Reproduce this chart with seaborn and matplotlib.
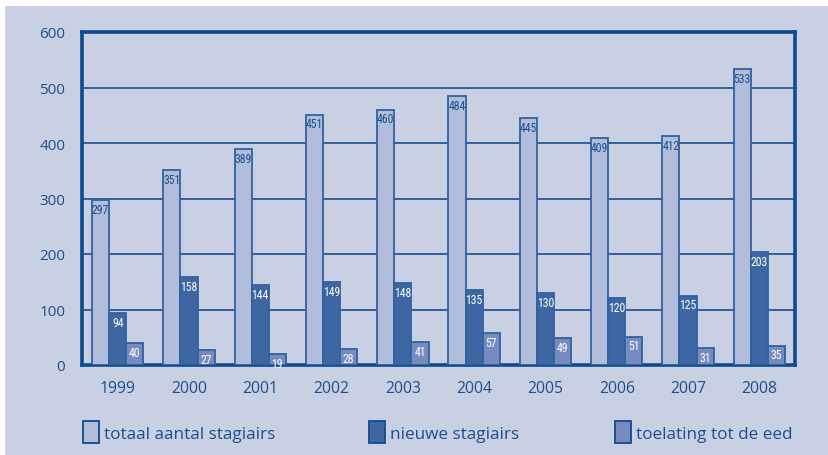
import matplotlib
matplotlib.use("Agg")
import matplotlib.pyplot as plt
from matplotlib.patches import Patch, Rectangle
from matplotlib.ticker import FixedLocator
from matplotlib import font_manager
import seaborn as sns
import pandas as pd

years = ["1999", "2000", "2001", "2002", "2003", "2004", "2005", "2006", "2007", "2008"]
series_names = ["totaal aantal stagiairs", "nieuwe stagiairs", "toelating tot de eed"]
totaal = [297, 351, 389, 451, 460, 484, 445, 409, 412, 533]
nieuwe = [94, 158, 144, 149, 148, 135, 130, 120, 125, 203]
toelating = [40, 27, 19, 28, 41, 57, 49, 51, 31, 35]
y_ticks = [0, 100, 200, 300, 400, 500, 600]

BG = "#c9d0e3"
FRAME = "#0d4a8f"
GRID = "#2f62a0"
TEXT = "#1c4f8e"
bar_colors = ["#b1bdda", "#3e66a3", "#778bc0"]
label_colors = [TEXT, "white", "white"]

df = pd.DataFrame({
    "jaar": years * 3,
    "reeks": [series_names[0]] * 10 + [series_names[1]] * 10 + [series_names[2]] * 10,
    "aantal": totaal + nieuwe + toelating,
})

sns.set_theme(style="white")
plt.rcParams["font.family"] = ["Open Sans", "DejaVu Sans"]

# narrow face for the small in-bar numbers, if one is installed
installed = {f.name for f in font_manager.fontManager.ttflist}
narrow = [n for n in ["Liberation Sans Narrow", "DejaVu Sans Condensed", "Roboto Condensed"]
          if n in installed]
value_family = narrow + ["Roboto", "DejaVu Sans"]

fig = plt.figure(figsize=(8.29, 4.56), dpi=100, facecolor="white")
fig.patches.append(Rectangle((5 / 829, -0.01), 1.02, 449 / 456 + 0.01, transform=fig.transFigure,
                             facecolor=BG, edgecolor="none", zorder=-10))

ax = fig.add_axes([82 / 829, 90 / 456, 713 / 829, 333 / 456])
ax.set_facecolor(BG)

sns.barplot(data=df, x="jaar", y="aantal", hue="reeks", hue_order=series_names,
            palette=bar_colors, width=0.72, saturation=1, edgecolor=GRID,
            linewidth=1.3, legend=False, ax=ax, zorder=3)

ax.set_xlim(-0.5, len(years) - 0.5)
ax.set_ylim(0, 600)
ax.set_yticks(y_ticks)
ax.yaxis.grid(True, color=GRID, linewidth=1.4, zorder=0)
ax.set_axisbelow(True)
ax.set_xlabel("")
ax.set_ylabel("")

for side in ["left", "right", "top", "bottom"]:
    ax.spines[side].set_visible(True)
    ax.spines[side].set_color(FRAME)
    ax.spines[side].set_linewidth(2.6)

ax.tick_params(axis="y", length=0, pad=12, labelsize=11, labelcolor=TEXT)
ax.tick_params(axis="x", which="major", length=0, pad=11, labelsize=11.3, labelcolor=TEXT)
ax.xaxis.set_minor_locator(FixedLocator([i + 0.5 for i in range(len(years) - 1)]))
ax.tick_params(axis="x", which="minor", direction="in", length=11, width=1.6, color=FRAME)

for container, col in zip(ax.containers, label_colors):
    for bar in container:
        h = bar.get_height()
        ax.annotate(f"{int(round(h))}", (bar.get_x() + bar.get_width() / 2, h),
                    xytext=(0, -2), textcoords="offset points", ha="center", va="top",
                    fontsize=8.5, color=col, zorder=5, family=value_family)

legend_x = [83 / 829, 369 / 829, 615 / 829]
for name, col, lx in zip(series_names, bar_colors, legend_x):
    leg = fig.legend(handles=[Patch(facecolor=col, edgecolor=FRAME, linewidth=1.3, label=name)],
                     loc="center left", bbox_to_anchor=(lx, 23 / 456), frameon=False,
                     fontsize=12.3, handlelength=0.95, handleheight=1.6, handletextpad=0.3,
                     borderpad=0, borderaxespad=0)
    for t in leg.get_texts():
        t.set_color(TEXT)

fig.savefig("out.png", dpi=100, facecolor=fig.get_facecolor())
